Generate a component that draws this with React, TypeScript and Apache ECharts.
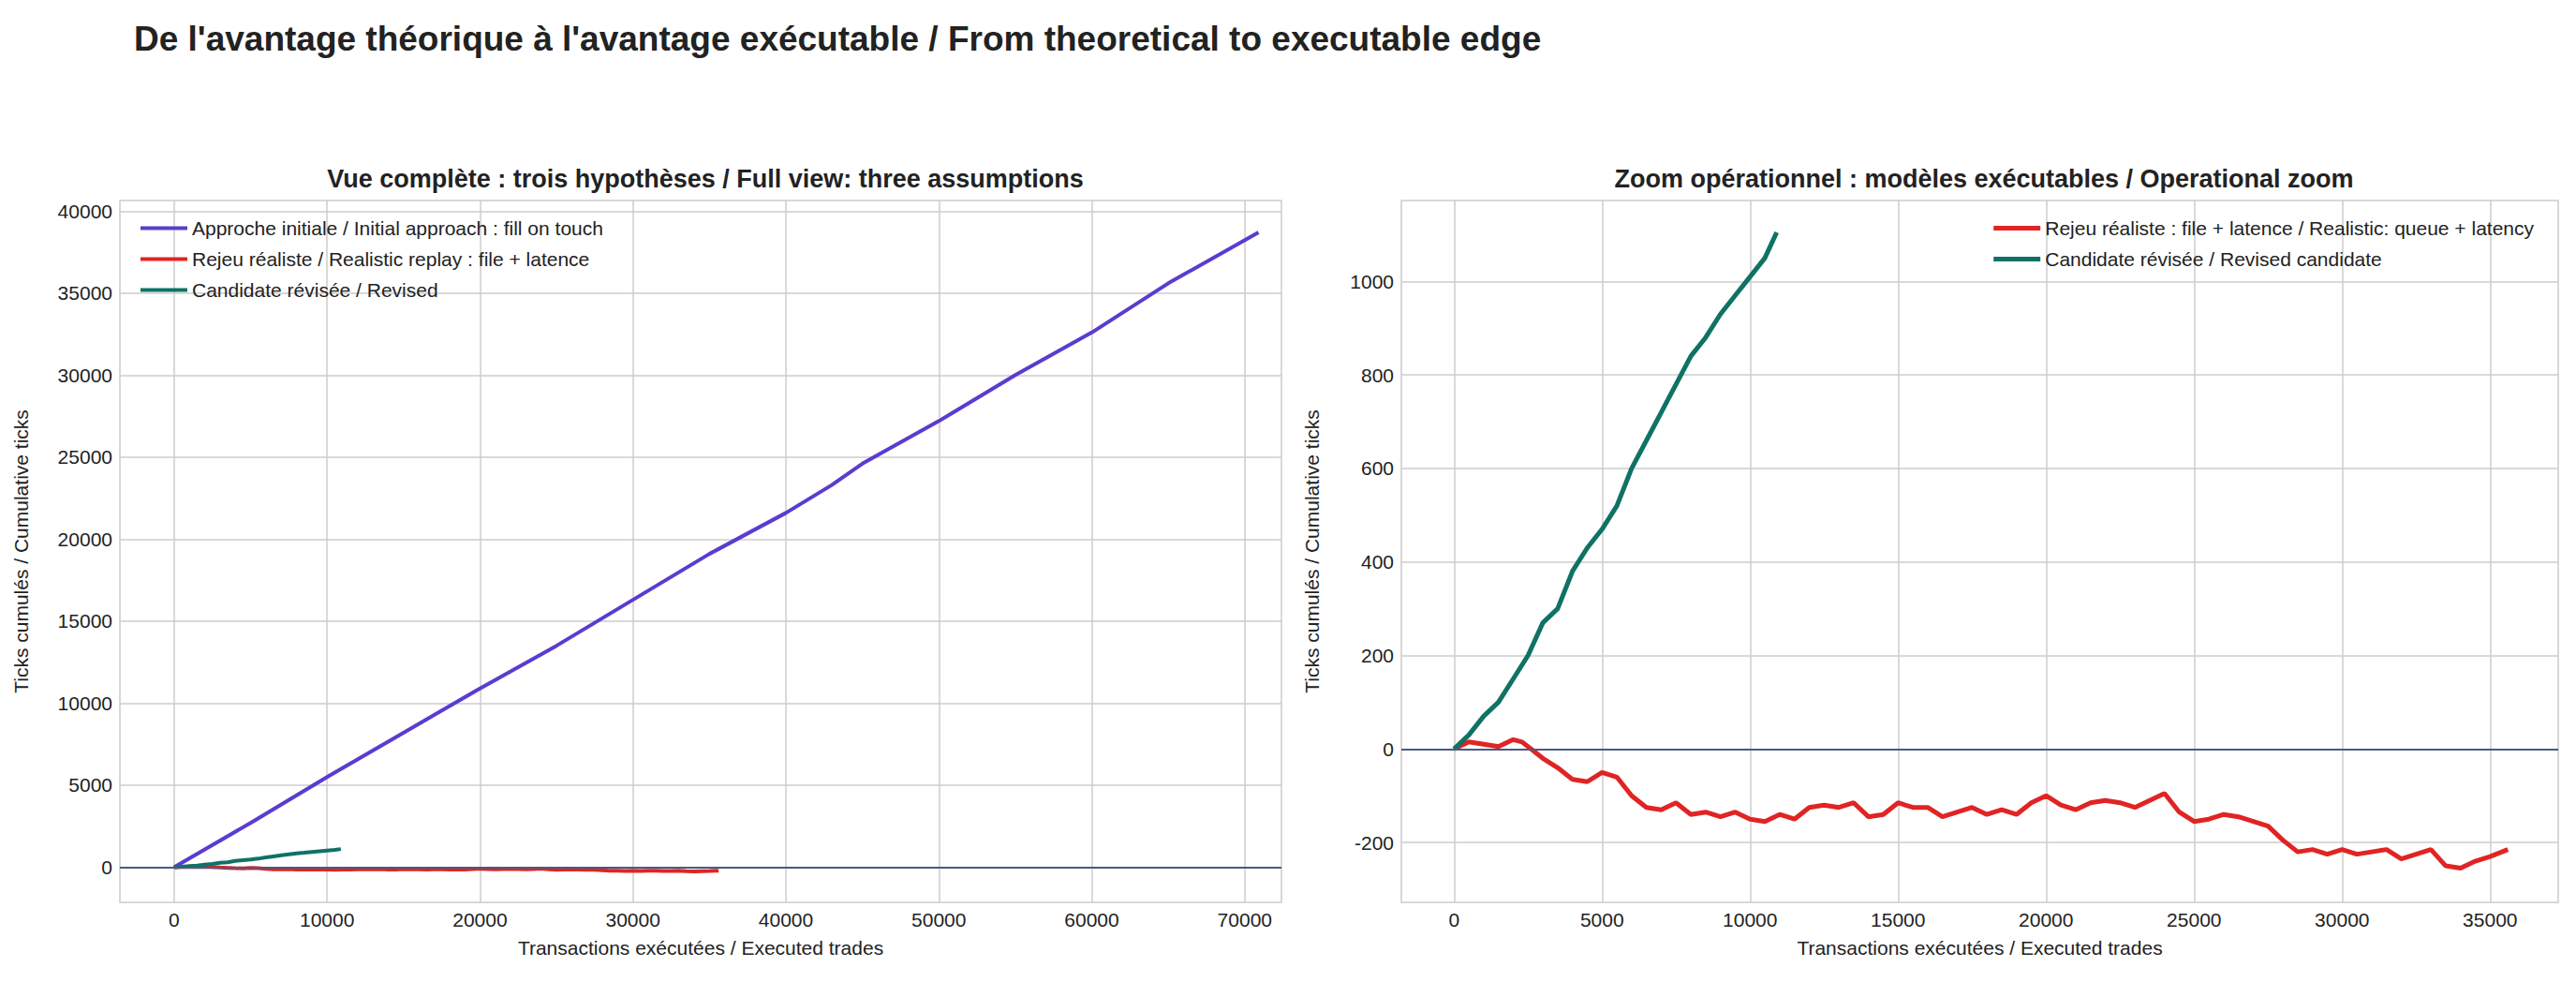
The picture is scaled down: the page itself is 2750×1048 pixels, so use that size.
import React, { useEffect, useRef } from "react";
import * as echarts from "echarts";

const purpleX = [0, 5000, 10000, 15000, 20000, 25000, 30000, 35000, 40000, 43000, 45000, 50000, 55000, 60000, 65000, 70900];
const purpleY = [0, 2700, 5500, 8200, 10900, 13500, 16300, 19100, 21600, 23300, 24600, 27200, 30000, 32600, 35600, 38700];

const greenX = [0, 500, 1000, 1500, 2000, 2500, 3000, 3500, 4000, 4500, 5000, 5500, 6000, 6500, 7000, 7500, 8000, 8500, 9000, 9500, 10000, 10500, 10900];
const greenY = [0, 30, 70, 100, 150, 200, 270, 300, 380, 430, 470, 520, 600, 660, 720, 780, 840, 880, 930, 970, 1010, 1050, 1105];

const redX = [0, 500, 1000, 1500, 2000, 2300, 2600, 3000, 3500, 4000, 4500, 5000, 5500, 6000, 6500, 7000, 7500, 8000, 8500, 9000, 9500, 10000, 10500, 11000, 11500, 12000, 12500, 13000, 13500, 14000, 14500, 15000, 15500, 16000, 16500, 17000, 17500, 18000, 18500, 19000, 19500, 20000, 20500, 21000, 21500, 22000, 22500, 23000, 23500, 24000, 24500, 25000, 25500, 26000, 26500, 27000, 27500, 28000, 28500, 29000, 29500, 30000, 30500, 31000, 31500, 32000, 32500, 33000, 33500, 34000, 34500, 35000, 35600];
const redY = [0, 15, 10, 5, 20, 15, 0, -20, -40, -65, -70, -50, -60, -100, -125, -130, -115, -140, -135, -145, -135, -150, -155, -140, -150, -125, -120, -125, -115, -145, -140, -115, -125, -125, -145, -135, -125, -140, -130, -140, -115, -100, -120, -130, -115, -110, -115, -125, -110, -95, -135, -155, -150, -140, -145, -155, -165, -195, -220, -215, -225, -215, -225, -220, -215, -235, -225, -215, -250, -255, -240, -230, -215];

const leftXTicks = [0, 10000, 20000, 30000, 40000, 50000, 60000, 70000];
const leftYTicks = [0, 5000, 10000, 15000, 20000, 25000, 30000, 35000, 40000];
const rightXTicks = [0, 5000, 10000, 15000, 20000, 25000, 30000, 35000];
const rightYTicks = [-200, 0, 200, 400, 600, 800, 1000];

const zip = (xs: number[], ys: number[]) => xs.map((x, i) => [x, ys[i]]);

const PURPLE = "#5a3ccf";
const RED = "#e02424";
const GREEN = "#0f7264";
const FONT = "Liberation Sans, Arial, sans-serif";

export default function App() {
  const ref = useRef<HTMLDivElement>(null);
  useEffect(() => {
    const chart = echarts.init(ref.current!, null, { renderer: "svg" });
    const ax = (ticks: number[]) => ({
      axisLine: { show: false },
      axisTick: { show: false, customValues: ticks },
      splitLine: { show: true, lineStyle: { color: "#cccccc", width: 1.5 } },
      axisLabel: { fontSize: 21, color: "#222", fontFamily: FONT, customValues: ticks, formatter: (v: number) => String(v) },
      nameTextStyle: { fontSize: 21, color: "#222", fontFamily: FONT },
      nameLocation: "middle" as const,
    });
    const zeroLine = {
      silent: true,
      symbol: "none",
      label: { show: false },
      lineStyle: { color: "#4a5a80", width: 1.8, type: "solid" as const },
      data: [{ yAxis: 0 }],
    };
    chart.setOption({
      animation: false,
      backgroundColor: "#fff",
      title: [
        { text: "De l'avantage théorique à l'avantage exécutable / From theoretical to executable edge", left: 138, top: 18, textStyle: { fontSize: 37, fontWeight: "bold", color: "#222", fontFamily: FONT } },
        { text: "Vue complète : trois hypothèses / Full view: three assumptions", left: 748, top: 172, textAlign: "center", textStyle: { fontSize: 27, fontWeight: "bold", color: "#222", fontFamily: FONT } },
        { text: "Zoom opérationnel : modèles exécutables / Operational zoom", left: 2113, top: 172, textAlign: "center", textStyle: { fontSize: 27, fontWeight: "bold", color: "#222", fontFamily: FONT } },
      ],
      grid: [
        { left: 128, width: 1240, top: 214, height: 749, show: true, borderColor: "#cccccc", borderWidth: 1.5 },
        { left: 1496, width: 1235, top: 214, height: 749, show: true, borderColor: "#cccccc", borderWidth: 1.5 },
      ],
      legend: [
        { left: 145, top: 228, orient: "vertical", itemGap: 12, itemWidth: 50, itemHeight: 4, icon: "rect", textStyle: { fontSize: 21, color: "#222", fontFamily: FONT }, data: ["Approche initiale / Initial approach : fill on touch", "Rejeu réaliste / Realistic replay : file + latence", "Candidate révisée / Revised"] },
        { right: 40, top: 228, orient: "vertical", itemGap: 12, itemWidth: 50, itemHeight: 5, icon: "rect", textStyle: { fontSize: 21, color: "#222", fontFamily: FONT }, data: ["Rejeu réaliste : file + latence / Realistic: queue + latency", "Candidate révisée / Revised candidate"] },
      ],
      xAxis: [
        { ...ax(leftXTicks), type: "value", gridIndex: 0, min: -3545, max: 72400, name: "Transactions exécutées / Executed trades", nameGap: 38 },
        { ...ax(rightXTicks), type: "value", gridIndex: 1, min: -1780, max: 37300, name: "Transactions exécutées / Executed trades", nameGap: 38 },
      ],
      yAxis: [
        { ...ax(leftYTicks), type: "value", gridIndex: 0, min: -2145, max: 40645, name: "Ticks cumulés / Cumulative ticks", nameGap: 95 },
        { ...ax(rightYTicks), type: "value", gridIndex: 1, min: -328, max: 1173, name: "Ticks cumulés / Cumulative ticks", nameGap: 85 },
      ],
      series: [
        { name: "Approche initiale / Initial approach : fill on touch", type: "line", xAxisIndex: 0, yAxisIndex: 0, showSymbol: false, color: PURPLE, lineStyle: { width: 4 }, data: zip(purpleX, purpleY), markLine: zeroLine, z: 3 },
        { name: "Rejeu réaliste / Realistic replay : file + latence", type: "line", xAxisIndex: 0, yAxisIndex: 0, showSymbol: false, color: RED, lineStyle: { width: 4 }, data: zip(redX, redY), z: 3 },
        { name: "Candidate révisée / Revised", type: "line", xAxisIndex: 0, yAxisIndex: 0, showSymbol: false, color: GREEN, lineStyle: { width: 4 }, data: zip(greenX, greenY), z: 3 },
        { name: "Rejeu réaliste : file + latence / Realistic: queue + latency", type: "line", xAxisIndex: 1, yAxisIndex: 1, showSymbol: false, color: RED, lineStyle: { width: 5 }, data: zip(redX, redY), markLine: zeroLine, z: 3 },
        { name: "Candidate révisée / Revised candidate", type: "line", xAxisIndex: 1, yAxisIndex: 1, showSymbol: false, color: GREEN, lineStyle: { width: 5 }, data: zip(greenX, greenY), z: 3 },
      ],
    });
    return () => chart.dispose();
  }, []);
  return <div ref={ref} style={{ position: "absolute", left: 0, top: 0, width: 2750, height: 1048 }} />;
}
